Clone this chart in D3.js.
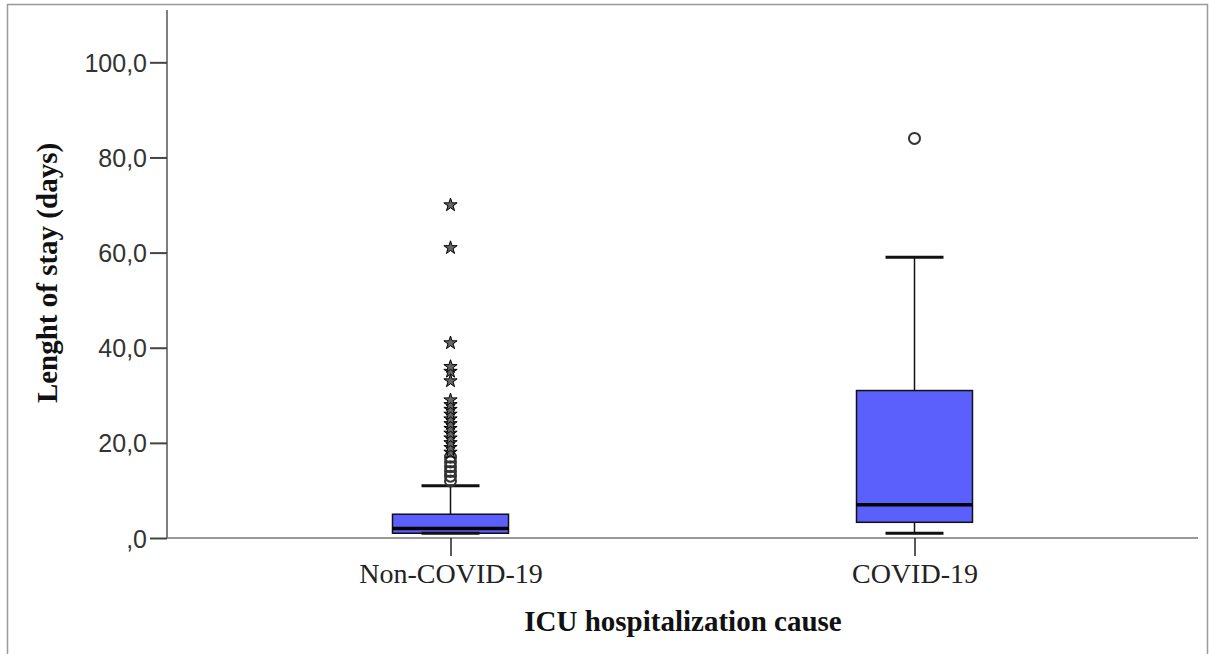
<!DOCTYPE html>
<html>
<head>
<meta charset="utf-8">
<script src="https://cdn.jsdelivr.net/npm/d3@7"></script>
<style>
  html, body { margin: 0; padding: 0; background: #fff; }
  svg { display: block; }
</style>
</head>
<body>
<svg id="chart" width="1209" height="654"></svg>
<script>
// ---- data ----
const categories = ["Non-COVID-19", "COVID-19"];
const whiskerLow = [1, 1];
const q1Values = [1, 3.3];
const medianValues = [2, 7];
const q3Values = [5, 31];
const whiskerHigh = [11, 59];
// mild outliers (circles)
const mildOutliers = [
  [12, 13, 14, 15, 16, 17],
  [84]
];
// extreme outliers (stars)
const extremeOutliers = [
  [18, 19, 20, 21, 22, 23, 24, 25, 26, 27, 28, 29, 33, 35, 36, 41, 61, 70],
  []
];
const yTicks = [0, 20, 40, 60, 80, 100];
const yTickLabels = [",0", "20,0", "40,0", "60,0", "80,0", "100,0"];
const xTitle = "ICU hospitalization cause";
const yTitle = "Lenght of stay (days)";

// ---- layout ----
const svg = d3.select("#chart");
const plotLeft = 167, plotRight = 1198, plotTop = 10, plotBottom = 538;

// frame
svg.append("rect")
  .attr("x", 7.5).attr("y", 4.5)
  .attr("width", 1200).attr("height", 700)
  .attr("fill", "none").attr("stroke", "#9a9a9a").attr("stroke-width", 1.5);

const y = d3.scaleLinear().domain([0, 111]).range([plotBottom, plotTop]);
const x = d3.scalePoint().domain(categories).range([plotLeft, plotRight]).padding(0.611);
const step = x.step();
const boxW = step * 0.25;
const capW = boxW * 0.5;

// y axis
const yAxis = svg.append("g").attr("transform", `translate(${plotLeft},0)`)
  .call(d3.axisLeft(y).tickValues(yTicks).tickSize(17).tickPadding(3)
    .tickFormat((d, i) => yTickLabels[i]));
yAxis.select(".domain").attr("d", `M0,${plotTop}V${plotBottom}`).attr("stroke", "#555").attr("stroke-width", 1.5);
yAxis.selectAll(".tick line").attr("stroke", "#444").attr("stroke-width", 2);
yAxis.selectAll(".tick text")
  .attr("font-family", "'Liberation Sans', Arial, sans-serif")
  .attr("font-size", 25).attr("fill", "#333").attr("dy", "0.36em");

// x axis
const xAxis = svg.append("g").attr("transform", `translate(0,${plotBottom})`)
  .call(d3.axisBottom(x).tickSize(18).tickPadding(5));
xAxis.select(".domain").attr("d", `M${plotLeft},0H${plotRight}`).attr("stroke", "#777").attr("stroke-width", 1.5);
xAxis.selectAll(".tick line").attr("stroke", "#222").attr("stroke-width", 1.5);
xAxis.selectAll(".tick text")
  .attr("font-family", "'Liberation Serif', 'Times New Roman', serif")
  .attr("font-size", 28).attr("fill", "#222").attr("dy", "0.78em");

// axis titles
svg.append("text")
  .attr("x", 683).attr("y", 631)
  .attr("text-anchor", "middle")
  .attr("font-family", "'Liberation Serif', 'Times New Roman', serif")
  .attr("font-weight", "bold").attr("font-size", 29).attr("fill", "#111")
  .text(xTitle);
svg.append("text")
  .attr("transform", `translate(57,273) rotate(-90)`)
  .attr("text-anchor", "middle")
  .attr("font-family", "'Liberation Serif', 'Times New Roman', serif")
  .attr("font-weight", "bold").attr("font-size", 29).attr("fill", "#111")
  .text(yTitle);

// boxes
const g = svg.append("g");
categories.forEach((c, i) => {
  const cx = x(c);
  // whisker vertical
  g.append("line").attr("x1", cx).attr("x2", cx)
    .attr("y1", y(whiskerHigh[i])).attr("y2", y(q3Values[i]))
    .attr("stroke", "#111").attr("stroke-width", 1.5);
  g.append("line").attr("x1", cx).attr("x2", cx)
    .attr("y1", y(q1Values[i])).attr("y2", y(whiskerLow[i]))
    .attr("stroke", "#111").attr("stroke-width", 1.5);
  // box
  g.append("rect")
    .attr("x", cx - boxW / 2).attr("width", boxW)
    .attr("y", y(q3Values[i])).attr("height", y(q1Values[i]) - y(q3Values[i]))
    .attr("fill", "#5b5ffc").attr("stroke", "#111").attr("stroke-width", 1.5);
  // caps
  [whiskerHigh[i], whiskerLow[i]].forEach(v => {
    g.append("line").attr("x1", cx - capW / 2).attr("x2", cx + capW / 2)
      .attr("y1", y(v)).attr("y2", y(v))
      .attr("stroke", "#111").attr("stroke-width", 3);
  });
  // median
  g.append("line").attr("x1", cx - boxW / 2).attr("x2", cx + boxW / 2)
    .attr("y1", y(medianValues[i])).attr("y2", y(medianValues[i]))
    .attr("stroke", "#000").attr("stroke-width", 3.5);
  // mild outliers
  mildOutliers[i].forEach(v => {
    g.append("circle").attr("cx", cx).attr("cy", y(v)).attr("r", 5.5)
      .attr("fill", "none").attr("stroke", "#333").attr("stroke-width", 2);
  });
  // extreme outliers
  const star = d3.symbol().type(d3.symbolStar).size(55);
  extremeOutliers[i].forEach(v => {
    g.append("path").attr("d", star())
      .attr("transform", `translate(${cx},${y(v)})`)
      .attr("fill", "#666").attr("stroke", "#000").attr("stroke-width", 1);
  });
});
</script>
</body>
</html>
